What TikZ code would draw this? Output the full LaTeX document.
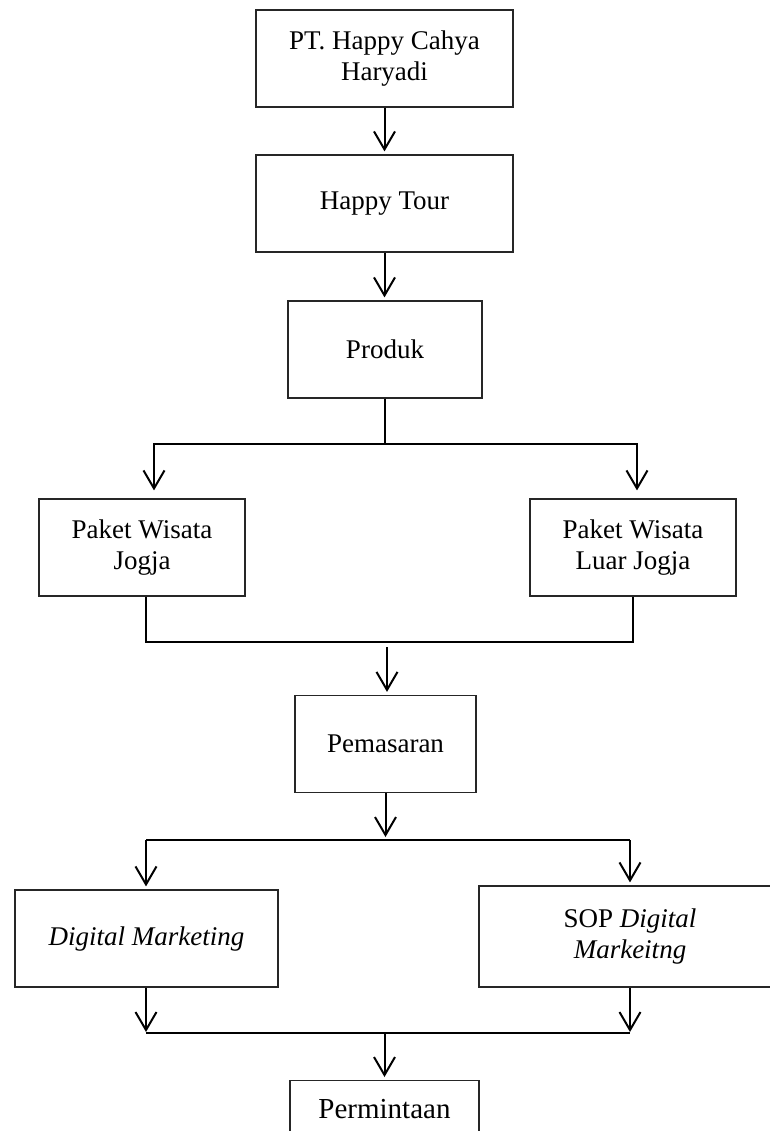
\documentclass[tikz,border=0pt]{standalone}
\usepackage{fontspec}
\setmainfont{Liberation Serif}
\usetikzlibrary{arrows.meta}

\tikzset{
  box/.style={draw=black!85, line width=0.6pt, align=center, inner sep=0pt,
    minimum height=48.5pt, font=\fontsize{13.5}{15.5}\selectfont},
  link/.style={line width=1pt},
  arrow/.style={link, shorten >=1.5pt, -{Straight Barb[length=9pt, width=10.5pt]}}
}

\begin{document}
\begin{tikzpicture}[x=0.5pt, y=-0.5pt]
      \useasboundingbox (0,0) rectangle (770,1131);
      \clip (0,0) rectangle (770,1131);
      % boxes
      \node[box, minimum width=128.5pt] (pt) at (384.5,58.5) {PT. Happy Cahya\\Haryadi};
      \node[box, minimum width=128.5pt] (tour) at (384.5,203.5) {Happy Tour};
      \node[box, minimum width=97pt] (produk) at (385,349.5) {Produk};
      \node[box, minimum width=103pt] (jogja) at (142,547.5) {Paket Wisata\\Jogja};
      \node[box, minimum width=103pt] (luar) at (633,547.5) {Paket Wisata\\Luar Jogja};
      \node[box, minimum width=90.5pt] (pemasaran) at (385.5,744) {Pemasaran};
      \node[box, minimum width=131.5pt] (digital) at (146.5,938.5) {\textit{Digital Marketing}};
      \node[box, minimum width=151pt, minimum height=50.5pt] (sop) at (630,936.5) {SOP \textit{Digital}\\\textit{Markeitng}};
      \node[box, anchor=north, minimum width=94.5pt, inner ysep=9.5pt, text depth=30pt,
            font=\fontsize{14.5}{17}\selectfont] (permintaan) at (384.5,1080) {Permintaan};
      % junctions
      \coordinate (s1l) at (154,443.5);
      \coordinate (s1r) at (637,443.5);
      \coordinate (m1l) at (146,642);
      \coordinate (m1r) at (633,642);
      \coordinate (m1) at (387,647);
      \coordinate (s2l) at (146,840);
      \coordinate (s2r) at (630,840);
      \coordinate (m2l) at (146,1033);
      \coordinate (m2r) at (630,1033);
      % connectors
      \draw[arrow] (pt) -- (tour);
      \draw[arrow] (tour.south) -- (tour.south |- produk.north);
      \draw[arrow, shorten >=4pt] (produk.south) |- (s1l) -- (s1l |- jogja.north);
      \draw[arrow, shorten >=4pt] (produk.south) |- (s1r) -- (s1r |- luar.north);
      \draw[link] (jogja.south -| m1l) -- (m1l) -- (m1r) -- (luar.south);
      \draw[arrow] (m1) -- (m1 |- pemasaran.north);
      \draw[arrow] (pemasaran.south) -- (pemasaran.south |- s2l);
      \draw[link] (s2l) -- (s2r);
      \draw[arrow] (s2l) -- (s2l |- digital.north);
      \draw[arrow] (s2r) -- (sop.north);
      \draw[arrow, shorten >=0.5pt] (digital.south -| m2l) -- (m2l);
      \draw[arrow, shorten >=0.5pt] (sop.south) -- (m2r);
      \draw[link] (m2l) -- (m2r);
      \draw[arrow] (m2l -| permintaan.north) -- (permintaan.north);
\end{tikzpicture}
\end{document}
